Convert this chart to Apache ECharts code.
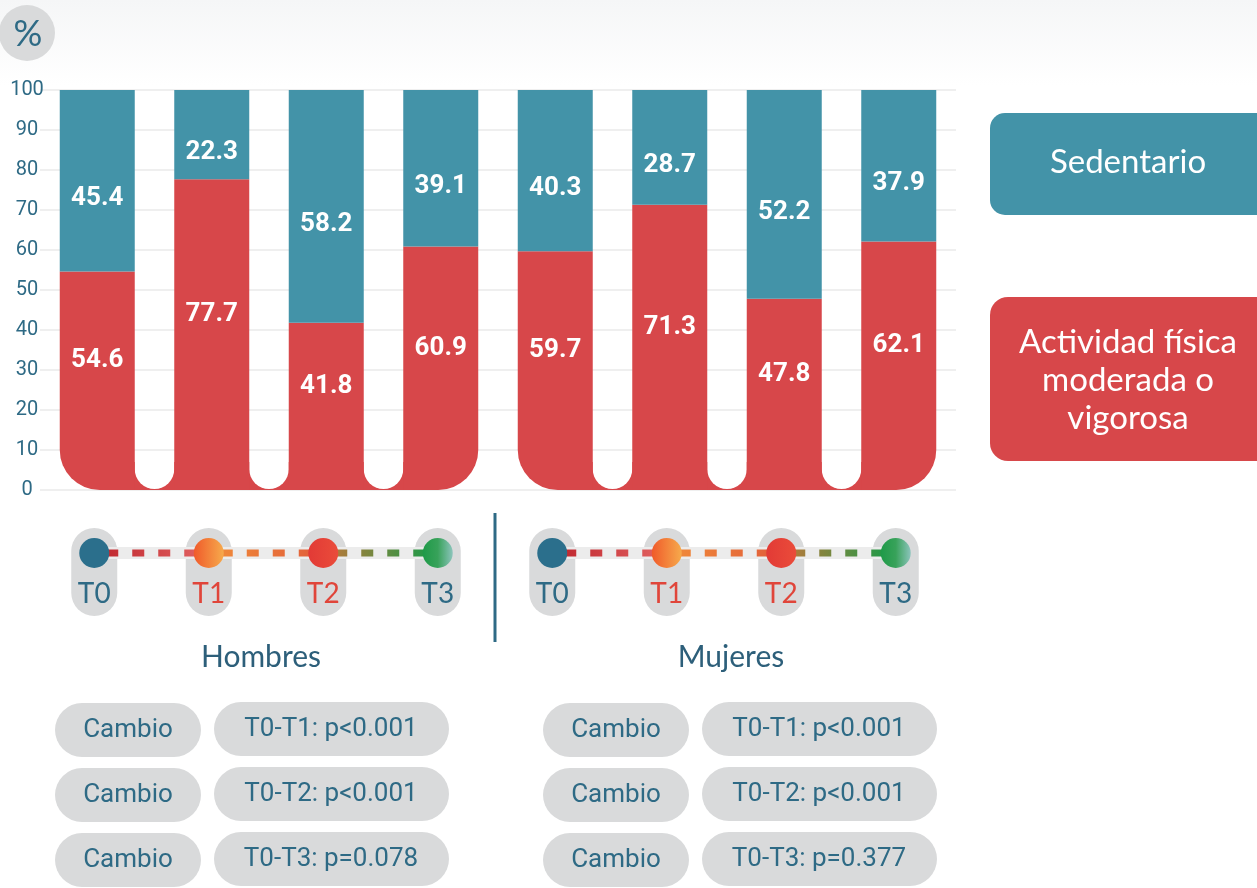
<!DOCTYPE html>
<html>
<head>
<meta charset="utf-8">
<script src="https://cdn.jsdelivr.net/npm/echarts@6/dist/echarts.min.js"></script>
<style>
  html, body { margin: 0; padding: 0; background: #fff; }
  #chart { width: 1257px; height: 888px; }
</style>
</head>
<body>
<div id="chart"></div>
<script>
////////////////////////////////////////////////////////////////
// data
var groups = ['Hombres', 'Mujeres'];
var timepoints = ['T0', 'T1', 'T2', 'T3'];
var sedentario = [45.4, 22.3, 58.2, 39.1, 40.3, 28.7, 52.2, 37.9];
var actividad = [54.6, 77.7, 41.8, 60.9, 59.7, 71.3, 47.8, 62.1];
var pValues = [
    ['T0-T1: p<0.001', 'T0-T2: p<0.001', 'T0-T3: p=0.078'],
    ['T0-T1: p<0.001', 'T0-T2: p<0.001', 'T0-T3: p=0.377']
];
var yMin = 0, yMax = 100, yStep = 10;

// --------------------------------------------------------
// colours / fonts
var TEAL = '#4393a8';
var RED = '#d7474a';
var INK = '#2e6a85';
var PILL = '#d9dadb';
var BAR_RATIO = 0.655;
var SANS = 'Lato, "Noto Sans", sans-serif';

// one category per bar, groups laid out side by side
var cats = [];
var groupRanges = [];
groups.forEach(function (g) {
    groupRanges.push([cats.length, cats.length + timepoints.length - 1]);
    timepoints.forEach(function (t) { cats.push(g + ' ' + t); });
});

// red bars get rounded outer corners at the ends of each group
var redData = actividad.map(function (v, i) {
    var item = { value: v };
    groupRanges.forEach(function (r) {
        if (i === r[0]) item.itemStyle = { borderRadius: [0, 0, 0, 40] };
        if (i === r[1]) item.itemStyle = { borderRadius: [0, 0, 40, 0] };
    });
    return item;
});

var chartDom = document.getElementById('chart');
var myChart = echarts.init(chartDom);

var barLabel = {
    show: true, position: 'inside',
    color: '#fff', fontSize: 26, fontWeight: 'bold', fontFamily: 'Roboto'
};

var option = {
    animation: false,
    grid: { left: 40, right: 301, top: 90, bottom: 398 },
    xAxis: {
        type: 'category',
        data: cats,
        axisLine: { show: false },
        axisTick: { show: false },
        axisLabel: { show: false }
    },
    yAxis: {
        type: 'value',
        min: yMin,
        max: yMax,
        interval: yStep,
        axisLine: { show: false },
        axisTick: { show: false },
        axisLabel: { color: INK, fontSize: 20, fontFamily: 'Roboto', align: 'center', margin: 13 },
        splitLine: { lineStyle: { color: '#efefef', width: 2 } }
    },
    series: [
        {
            // red base that joins the bars of each group at the bottom
            type: 'custom',
            z: 1,
            data: groupRanges,
            encode: { x: [0, 1] },
            renderItem: function (params, api) {
                var a = api.value(0), b = api.value(1);
                var band = api.size([1, 0])[0];
                var barW = band * BAR_RATIO;
                var gap = band - barW;
                var left = api.coord([a, 0])[0] + barW / 2;
                var right = api.coord([b, 0])[0] - barW / 2;
                var bottom = api.coord([a, 0])[1];
                var top = api.coord([a, 7])[1];
                var children = [{
                    type: 'rect',
                    shape: { x: left - 2, y: top, width: right - left + 4, height: bottom - top },
                    style: { fill: RED }
                }];
                for (var i = a; i < b; i++) {
                    var gx = api.coord([i, 0])[0] + barW / 2;
                    children.push({
                        type: 'rect',
                        shape: { x: gx, y: top - 2, width: gap, height: bottom - top + 1, r: [0, 0, gap / 2, gap / 2] },
                        style: { fill: '#fff' }
                    });
                }
                return { type: 'group', children: children };
            }
        },
        {
            name: 'Actividad física moderada o vigorosa',
            type: 'bar',
            stack: 'total',
            barWidth: (BAR_RATIO * 100) + '%',
            data: redData,
            itemStyle: { color: RED },
            label: Object.assign({ offset: [0, -20] }, barLabel)
        },
        {
            name: 'Sedentario',
            type: 'bar',
            stack: 'total',
            barWidth: (BAR_RATIO * 100) + '%',
            data: sedentario,
            itemStyle: { color: TEAL },
            label: Object.assign({ offset: [0, 18] }, barLabel)
        }
    ]
};

option && myChart.setOption(option);

////////////////////////////////////////////////////////////////
// decorations: header, legend boxes, timeline, p-values
var g = [];

g.push({
    type: 'rect', z: -10, silent: true,
    shape: { x: 0, y: 0, width: 1257, height: 85 },
    style: { fill: new echarts.graphic.LinearGradient(0, 0, 0, 1, [
        { offset: 0, color: '#f5f6f7' }, { offset: 1, color: '#ffffff' }]) }
});
g.push({ type: 'circle', shape: { cx: 27, cy: 33, r: 28 }, style: { fill: PILL } });
g.push({ type: 'text', x: 28, y: 34, style: { text: '%', fill: INK, font: '36px ' + SANS, align: 'center', verticalAlign: 'middle' } });

// legend boxes
g.push({ type: 'rect', shape: { x: 990, y: 113, width: 290, height: 102, r: 15 }, style: { fill: TEAL } });
g.push({ type: 'text', x: 1128, y: 162, style: { text: 'Sedentario', fill: '#fff', font: '33px ' + SANS, align: 'center', verticalAlign: 'middle' } });
g.push({ type: 'rect', shape: { x: 990, y: 297, width: 290, height: 164, r: 18 }, style: { fill: RED } });
g.push({ type: 'text', x: 1128, y: 380, style: {
    text: 'Actividad física\nmoderada o\nvigorosa', fill: '#fff', font: '33px ' + SANS,
    lineHeight: 38, align: 'center', verticalAlign: 'middle' } });

// timeline under each group
var dotStyles = [
    { fill: '#2b6f8c', text: INK },
    { fill: new echarts.graphic.LinearGradient(0, 0, 1, 0, [{ offset: 0, color: '#f05a2a' }, { offset: 1, color: '#f6aa4c' }]), text: '#e0453a' },
    { fill: new echarts.graphic.LinearGradient(0, 0, 1, 0, [{ offset: 0, color: '#e23a36' }, { offset: 1, color: '#ea4c3a' }]), text: '#e0453a' },
    { fill: new echarts.graphic.LinearGradient(0, 0, 1, 0, [{ offset: 0, color: '#1e9a48' }, { offset: 0.5, color: '#38a25a' }, { offset: 1, color: '#8cc4bc' }]), text: INK }
];
var segColors = [
    new echarts.graphic.LinearGradient(0, 0, 1, 0, [{ offset: 0, color: '#c0282f' }, { offset: 1, color: '#e06060' }]),
    new echarts.graphic.LinearGradient(0, 0, 1, 0, [{ offset: 0, color: '#f08a3a' }, { offset: 1, color: '#e2603a' }]),
    new echarts.graphic.LinearGradient(0, 0, 1, 0, [{ offset: 0, color: '#b67a3a' }, { offset: 1, color: '#1e9a48' }])
];
var lineY = 553;

groupRanges.forEach(function (r, gi) {
    var xs = [];
    for (var i = r[0]; i <= r[1]; i++) {
        xs.push(myChart.convertToPixel({ gridIndex: 0 }, [i, 0])[0] - 3);
    }
    xs.forEach(function (x, k) {
        g.push({ type: 'rect', z: 1, shape: { x: x - 23, y: 528, width: 46, height: 88, r: 23 }, style: { fill: PILL } });
        g.push({ type: 'circle', z: 4, shape: { cx: x, cy: lineY, r: 15 }, style: { fill: dotStyles[k].fill } });
        g.push({ type: 'text', z: 4, x: x, y: 594, style: {
            text: timepoints[k], fill: dotStyles[k].text, font: '28px ' + SANS, align: 'center', verticalAlign: 'middle' } });
        if (k < xs.length - 1) {
            g.push({ type: 'line', z: 2, shape: { x1: x, y1: lineY, x2: xs[k + 1], y2: lineY },
                style: { stroke: '#ececec', lineWidth: 12 } });
            g.push({ type: 'line', z: 3, shape: { x1: x + 12, y1: lineY, x2: xs[k + 1] - 12, y2: lineY },
                style: { stroke: segColors[k], lineWidth: 7, lineDash: [12, 14] } });
        }
    });
    var mid = (xs[1] + xs[2]) / 2;
    g.push({ type: 'text', x: mid - 5 + gi * 12, y: 657, style: {
        text: groups[gi], fill: '#2d5f7a', font: '30px ' + SANS, align: 'center', verticalAlign: 'middle' } });

    // p-value pills
    var baseX = gi === 0 ? 55 : 543;
    pValues[gi].forEach(function (txt, row) {
        var y = 703 + row * 65;
        g.push({ type: 'rect', shape: { x: baseX, y: y, width: 146, height: 54, r: 27 }, style: { fill: PILL } });
        g.push({ type: 'text', x: baseX + 73, y: y + 27, style: {
            text: 'Cambio', fill: INK, font: '26px Roboto', align: 'center', verticalAlign: 'middle' } });
        g.push({ type: 'rect', shape: { x: baseX + 159, y: y - 1, width: 235, height: 54, r: 27 }, style: { fill: PILL } });
        g.push({ type: 'text', x: baseX + 159 + 117, y: y + 26, style: {
            text: txt, fill: INK, font: '26px Roboto', align: 'center', verticalAlign: 'middle' } });
    });
});

// divider between the two groups
g.push({ type: 'line', shape: { x1: 495, y1: 513, x2: 495, y2: 642 }, style: { stroke: INK, lineWidth: 3 } });

myChart.setOption({ graphic: { elements: g } });
</script>
</body>
</html>
